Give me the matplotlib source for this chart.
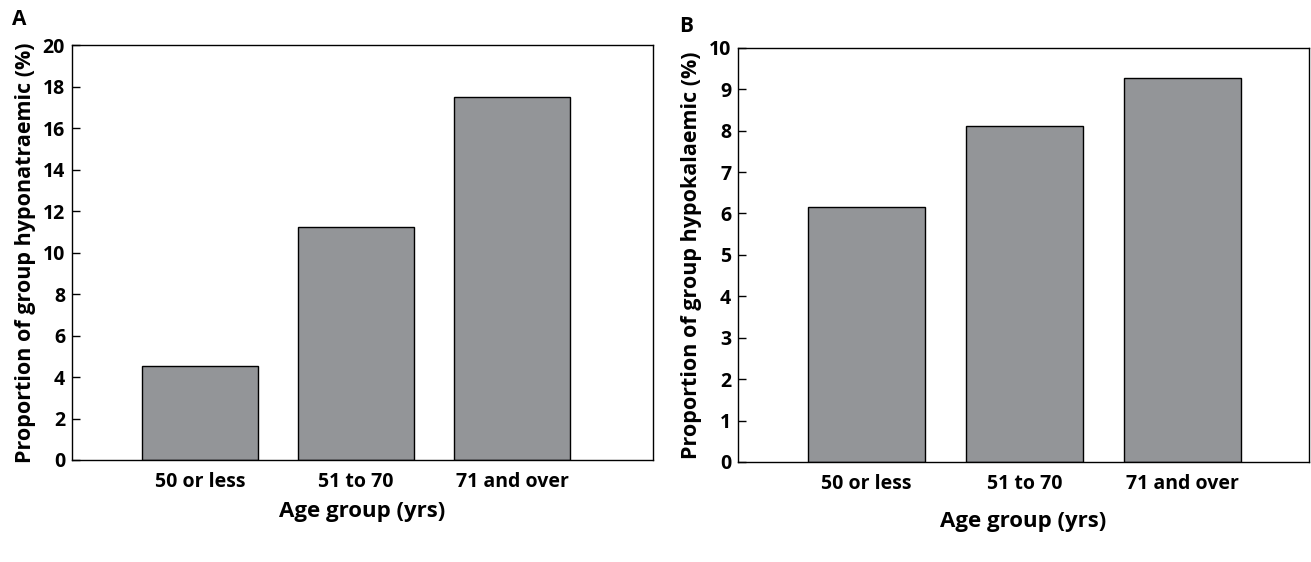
import numpy as np
import matplotlib.pyplot as plt

categories = ["50 or less", "51 to 70", "71 and over"]
hyponatraemic = [4.55, 11.25, 17.5]
hypokalaemic = [6.15, 8.1, 9.27]

plt.rcParams['font.family'] = ['Open Sans', 'DejaVu Sans']
plt.rcParams['font.weight'] = 'bold'

bar_color = '#939598'

fig = plt.figure(figsize=(13.11, 5.62), dpi=100)
ax_a = fig.add_axes([0.0549, 0.1815, 0.443, 0.738])
ax_b = fig.add_axes([0.563, 0.178, 0.4355, 0.737])


def draw_panel(ax, values, ylabel, ymax, step, xlim, xpad):
    x = np.arange(len(categories))
    ax.bar(x, values, width=0.74, color=bar_color, edgecolor='black', linewidth=1.0, zorder=2)
    ax.set_xlim(*xlim)
    ax.set_ylim(0, ymax)
    ax.set_yticks(np.arange(0, ymax + step / 2, step))
    ax.set_xticks(x)
    ax.set_xticklabels(categories)
    ax.tick_params(axis='both', direction='in', length=6, width=1, labelsize=14)
    ax.tick_params(axis='x', pad=9)
    ax.tick_params(axis='y', pad=5)
    for lab in ax.get_xticklabels() + ax.get_yticklabels():
        lab.set_fontweight('bold')
    for s in ax.spines.values():
        s.set_linewidth(1.0)
    ax.set_xlabel("Age group (yrs)", fontsize=16, fontweight='bold', labelpad=xpad)
    ax.set_ylabel(ylabel, fontsize=15.5, fontweight='bold', labelpad=5)


draw_panel(ax_a, hyponatraemic, "Proportion of group hyponatraemic (%)", 20, 2, (-0.82, 2.90), 6)
draw_panel(ax_b, hypokalaemic, "Proportion of group hypokalaemic (%)", 10, 1, (-0.81, 2.80), 12)

fig.text(0.009, 0.965, "A", fontsize=15, fontweight='bold', va='center')
fig.text(0.518, 0.953, "B", fontsize=15, fontweight='bold', va='center')

fig.savefig("out.png", dpi=100)
